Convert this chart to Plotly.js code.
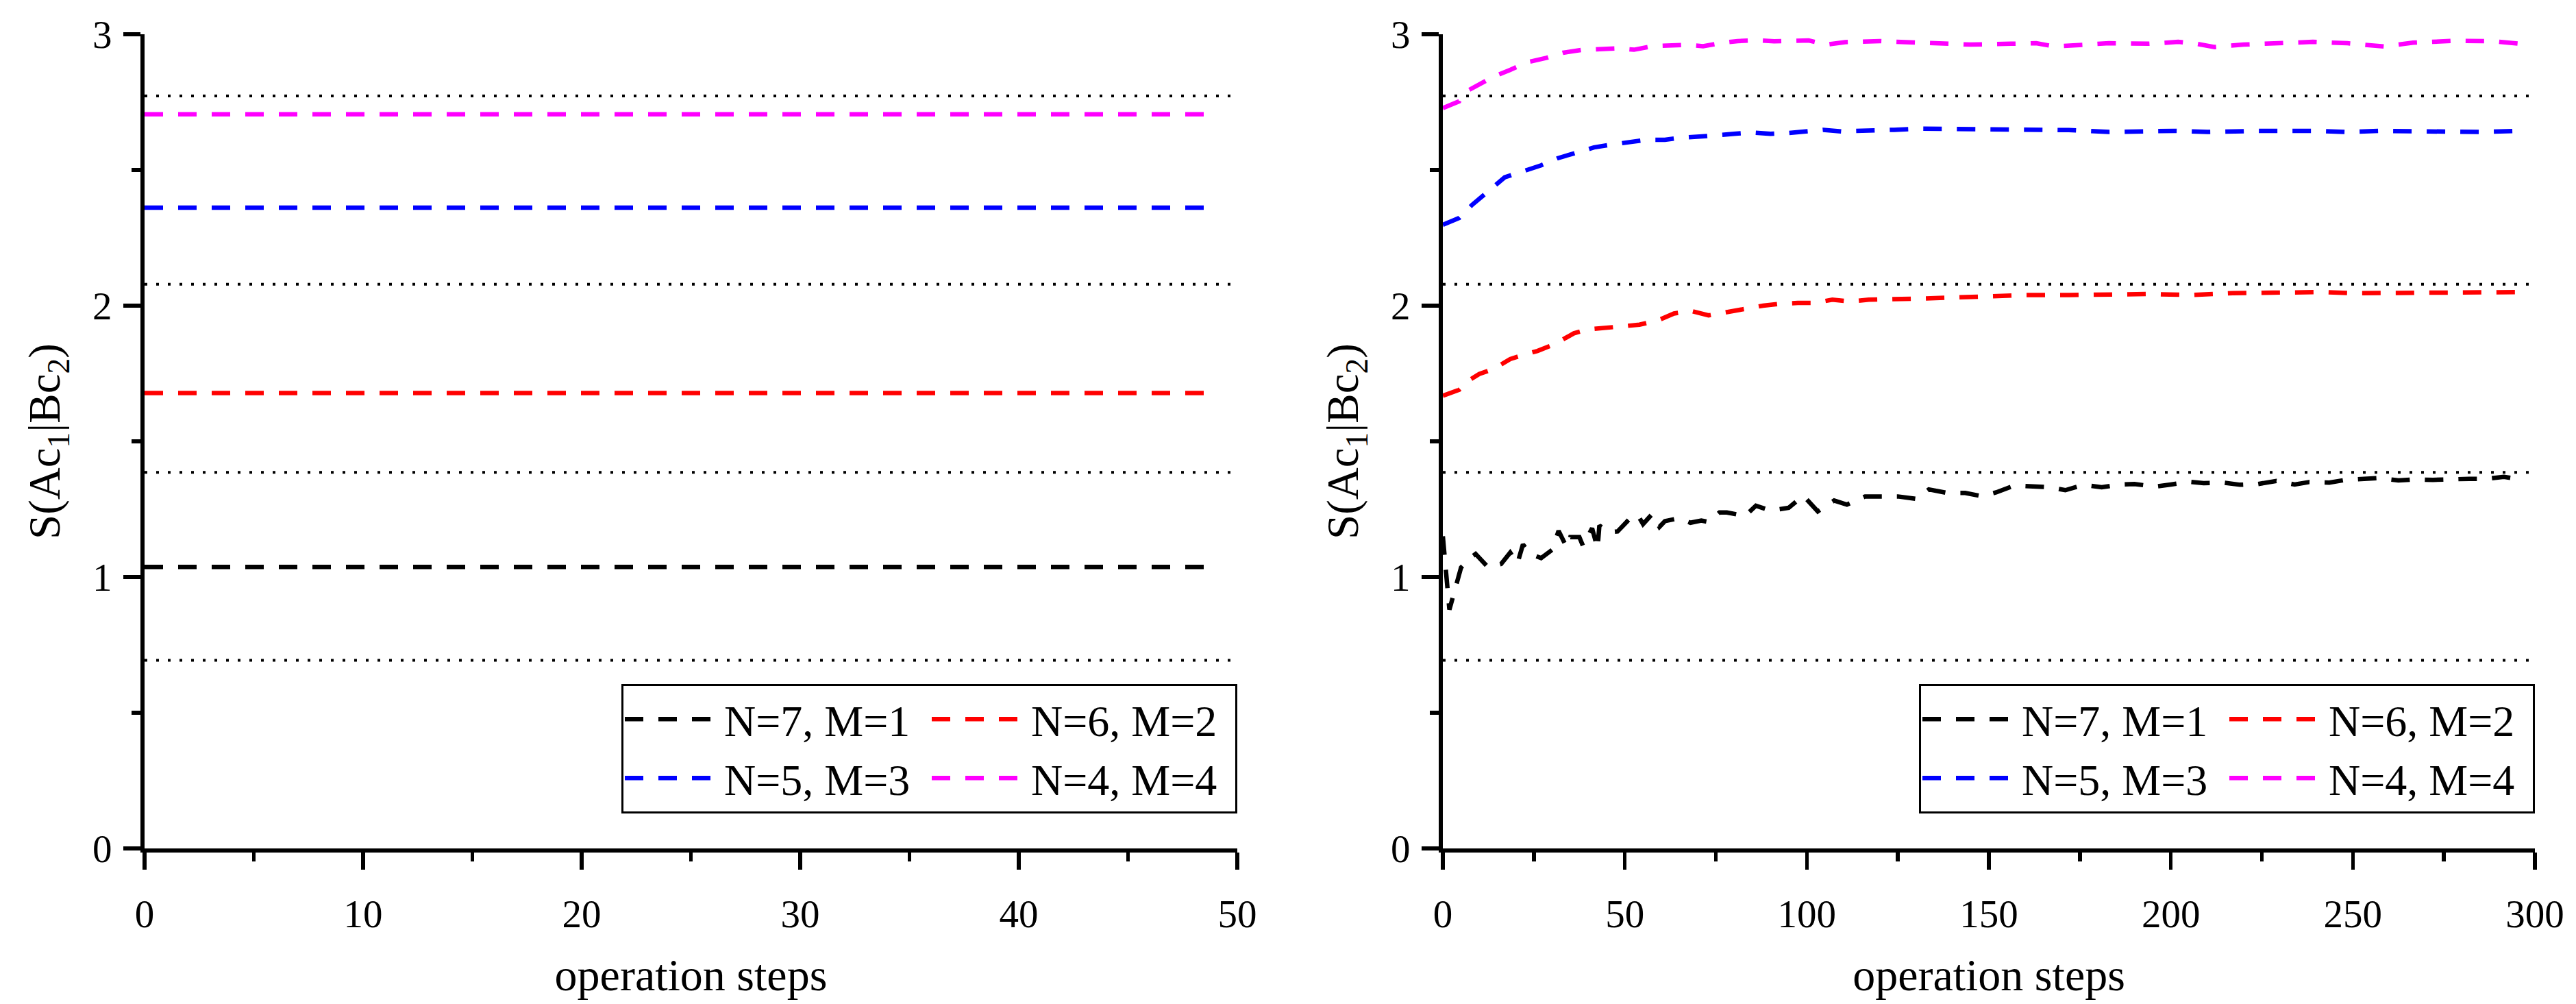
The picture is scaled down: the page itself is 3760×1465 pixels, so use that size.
<!DOCTYPE html>
<html>
<head>
<meta charset="utf-8">
<script src="https://cdn.plot.ly/plotly-3.0.1.min.js"></script>
<style>
html, body { margin: 0; padding: 0; background: #ffffff; }
#chart { width: 3760px; height: 1465px; }
</style>
</head>
<body>
<div id="chart"></div>
<script>
// ---------------- DATA ----------------
const seriesNames = ['N=7, M=1', 'N=6, M=2', 'N=5, M=3', 'N=4, M=4'];
const refLevels = [0.693, 1.386, 2.079, 2.773];   // dotted reference levels

// left panel (constant values)
const leftSteps = [0, 49];
const leftN7M1 = [1.037, 1.037];
const leftN6M2 = [1.678, 1.678];
const leftN5M3 = [2.361, 2.361];
const leftN4M4 = [2.705, 2.705];

// right panel
const rightN7M1Steps = [0, 1.8, 5, 7.5, 9, 12.5, 16, 18.5, 20.5, 22, 24, 27, 30, 31.8, 34, 35, 37.5, 38.5, 41, 42.5, 43, 45.5, 48, 51, 53.5, 55, 57.5, 59.5, 61, 65, 68, 71, 73, 76, 78, 83, 86, 90, 95, 99, 103, 107.5, 111, 116, 121, 125, 130, 133.5, 138.5, 143.5, 148, 152, 157, 161, 166.5, 171, 176, 181, 186, 190, 195.5, 200, 205, 209, 214.5, 219, 224, 229, 234, 238, 243.5, 247.5, 253, 257, 262.5, 267, 272, 277, 282, 286.5, 291.5, 296];
const rightN7M1 = [1.15, 0.88, 1.035, 1.07, 1.085, 1.035, 1.048, 1.09, 1.05, 1.12, 1.085, 1.07, 1.10, 1.17, 1.11, 1.147, 1.147, 1.115, 1.18, 1.105, 1.19, 1.165, 1.168, 1.21, 1.23, 1.195, 1.232, 1.185, 1.206, 1.217, 1.20, 1.208, 1.203, 1.238, 1.238, 1.225, 1.263, 1.245, 1.255, 1.30, 1.242, 1.282, 1.267, 1.297, 1.297, 1.297, 1.288, 1.323, 1.31, 1.31, 1.298, 1.312, 1.337, 1.333, 1.331, 1.32, 1.34, 1.331, 1.341, 1.343, 1.333, 1.341, 1.351, 1.346, 1.348, 1.34, 1.343, 1.354, 1.341, 1.35, 1.348, 1.357, 1.36, 1.365, 1.356, 1.36, 1.358, 1.362, 1.362, 1.362, 1.369, 1.36];

const rightN6M2Steps = [0, 4.5, 7, 10, 14, 18.5, 22, 26, 30.5, 36, 40, 44.5, 49.5, 54, 59, 63.5, 68, 73, 78, 83, 88, 92.5, 97.5, 102, 107, 112, 117, 122, 126, 131, 149, 160, 172, 183, 194, 205.5, 217, 228, 241.5, 250.5, 262, 273, 284.5, 296];
const rightN6M2 = [1.668, 1.690, 1.723, 1.748, 1.767, 1.803, 1.818, 1.833, 1.857, 1.898, 1.913, 1.920, 1.924, 1.930, 1.945, 1.971, 1.981, 1.964, 1.978, 1.988, 2.000, 2.007, 2.010, 2.010, 2.022, 2.015, 2.022, 2.022, 2.025, 2.026, 2.034, 2.039, 2.039, 2.043, 2.043, 2.039, 2.046, 2.048, 2.050, 2.046, 2.048, 2.050, 2.050, 2.050];

const rightN5M3Steps = [0, 4.5, 8, 12, 17, 22, 27, 31.5, 36.5, 41.5, 46, 51, 56, 61, 65.5, 70.5, 75.5, 80, 85, 90, 95, 99.5, 104.5, 109.5, 114, 119, 124, 131, 145, 160, 172, 183, 194, 201, 210, 224, 239, 248, 257.5, 273, 285, 296];
const rightN5M3 = [2.298, 2.323, 2.371, 2.418, 2.473, 2.495, 2.517, 2.543, 2.561, 2.583, 2.593, 2.604, 2.611, 2.611, 2.619, 2.623, 2.630, 2.633, 2.638, 2.633, 2.636, 2.643, 2.648, 2.642, 2.643, 2.643, 2.648, 2.652, 2.651, 2.651, 2.647, 2.640, 2.644, 2.644, 2.640, 2.644, 2.644, 2.640, 2.644, 2.640, 2.640, 2.644];

const rightN4M4Steps = [0, 4.5, 6, 13.5, 18.5, 23.5, 28.5, 33, 38, 48, 52.5, 57.5, 67, 71.5, 76.5, 81, 86, 91, 100.5, 105.5, 110.5, 120, 131, 145, 156, 163, 168, 174, 183, 194, 202, 207, 212, 220, 228, 239, 248.5, 258.5, 266.5, 278, 289, 296];
const rightN4M4 = [2.728, 2.753, 2.786, 2.841, 2.869, 2.898, 2.913, 2.932, 2.942, 2.948, 2.943, 2.956, 2.961, 2.956, 2.968, 2.975, 2.978, 2.974, 2.977, 2.962, 2.971, 2.975, 2.969, 2.962, 2.965, 2.967, 2.955, 2.960, 2.967, 2.965, 2.972, 2.965, 2.953, 2.962, 2.967, 2.972, 2.967, 2.955, 2.969, 2.976, 2.974, 2.965];

const leftXTicks = [0, 10, 20, 30, 40, 50];
const rightXTicks = [0, 50, 100, 150, 200, 250, 300];
const yTicks = [0, 1, 2, 3];
const xTitle = 'operation steps';
const yTitle = 'S(Ac<sub>1</sub>|Bc<sub>2</sub>)';

// ---------------- STYLE ----------------
const FONT = 'Liberation Serif, Times New Roman, serif';
const colors = ['#000000', '#ff0000', '#0000ff', '#ff00ff'];
const DASH = '27px,22px';
const DOT = '4px,13px';

const traces = [];

function addRefLines(xmax, xa, ya) {
  refLevels.forEach(v => {
    traces.push({
      type: 'scatter', mode: 'lines', x: [0, xmax], y: [v, v],
      xaxis: xa, yaxis: ya, showlegend: false, hoverinfo: 'skip',
      line: { color: '#000000', width: 4, dash: DOT }
    });
  });
}

function addSeries(xs, ys, idx, xa, ya, legendId, groupPrefix) {
  traces.push({
    type: 'scatter', mode: 'lines', x: xs, y: ys, name: seriesNames[idx],
    xaxis: xa, yaxis: ya, legend: legendId,
    legendgroup: groupPrefix + (idx % 2 === 0 ? 'a' : 'b'),
    line: { color: colors[idx], width: 6.5, dash: DASH }
  });
}

addRefLines(50, 'x', 'y');
addRefLines(300, 'x2', 'y2');

// legend columns: column a = idx 0,2 ; column b = idx 1,3
const leftSeries = [leftN7M1, leftN6M2, leftN5M3, leftN4M4];
[0, 2, 1, 3].forEach(i => addSeries(leftSteps, leftSeries[i], i, 'x', 'y', 'legend', 'L'));
const rightSteps = [rightN7M1Steps, rightN6M2Steps, rightN5M3Steps, rightN4M4Steps];
const rightSeries = [rightN7M1, rightN6M2, rightN5M3, rightN4M4];
[0, 2, 1, 3].forEach(i => addSeries(rightSteps[i], rightSeries[i], i, 'x2', 'y2', 'legend2', 'R'));

const axisCommon = {
  showline: true, linewidth: 6, linecolor: '#000000', mirror: false,
  ticks: 'outside', ticklen: 25, tickwidth: 5.5, tickcolor: '#000000',
  showgrid: false, zeroline: false, automargin: false,
  tickfont: { family: FONT, size: 57, color: '#000000' }
};

function xAxis(domain, range, ticks, minorDt, anchor) {
  return Object.assign({}, axisCommon, {
    domain: domain, range: range, anchor: anchor,
    tickmode: 'array', tickvals: ticks, ticktext: ticks.map(String),
    ticklabelstandoff: 16,
    minor: { dtick: minorDt, tick0: 0, ticks: 'outside', ticklen: 13, tickwidth: 5.5, tickcolor: '#000000', showgrid: false },
    title: { text: xTitle, font: { family: FONT, size: 66, color: '#000000' }, standoff: 36 }
  });
}
function yAxis(anchor) {
  return Object.assign({}, axisCommon, {
    domain: [0, 1], range: [0, 3], anchor: anchor,
    tickmode: 'array', tickvals: yTicks, ticktext: yTicks.map(String),
    ticklabelstandoff: 5,
    minor: { dtick: 0.5, tick0: 0, ticks: 'outside', ticklen: 13, tickwidth: 5.5, tickcolor: '#000000', showgrid: false },
    title: { text: yTitle, font: { family: FONT, size: 65, color: '#000000' }, standoff: 28 }
  });
}

const legendCommon = {
  orientation: 'h', traceorder: 'grouped',
  font: { family: FONT, size: 64, color: '#000000' },
  bgcolor: '#ffffff', bordercolor: '#000000', borderwidth: 3,
  itemwidth: 140, entrywidth: 293, entrywidthmode: 'pixels',
  yanchor: 'bottom', xanchor: 'right', y: 0.0429,
  tracegroupgap: 0, itemclick: false, itemdoubleclick: false
};

const layout = {
  width: 3760, height: 1465,
  margin: { l: 211, r: 60, t: 50, b: 227 },
  paper_bgcolor: '#ffffff', plot_bgcolor: '#ffffff',
  font: { family: FONT, color: '#000000' },
  showlegend: true,
  xaxis: xAxis([0, 0.45715], [0, 50], leftXTicks, 5, 'y'),
  yaxis: yAxis('x'),
  xaxis2: xAxis([0.54314, 1], [0, 300], rightXTicks, 25, 'y2'),
  yaxis2: yAxis('x2'),
  legend: Object.assign({}, legendCommon, { x: 0.45715 }),
  legend2: Object.assign({}, legendCommon, { x: 1 })
};

Plotly.newPlot('chart', traces, layout, { staticPlot: true, displayModeBar: false });
</script>
</body>
</html>
